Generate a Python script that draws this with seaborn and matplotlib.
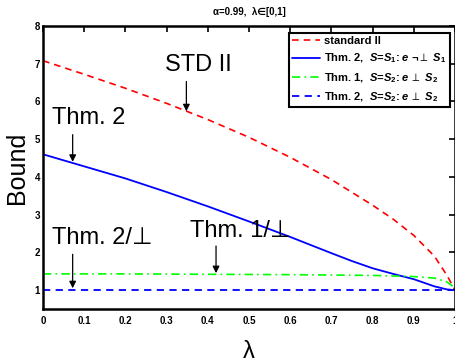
import matplotlib
matplotlib.use("Agg")
import matplotlib.pyplot as plt
import seaborn as sns

# ---- data ----
lam_std = [0.0, 0.1, 0.2, 0.3, 0.4, 0.5, 0.6, 0.7, 0.8, 0.85, 0.9, 0.95, 0.98, 1.0]
std2 = [7.08, 6.72, 6.35, 5.95, 5.52, 5.05, 4.52, 3.93, 3.25, 2.88, 2.45, 1.90, 1.40, 1.0]

lam_t2 = [0.0, 0.1, 0.2, 0.3, 0.4, 0.5, 0.6, 0.7, 0.75, 0.8, 0.85, 0.9, 0.95, 0.98, 1.0]
thm2_s1 = [4.60, 4.28, 3.96, 3.60, 3.22, 2.82, 2.41, 1.98, 1.77, 1.58, 1.43, 1.29, 1.10, 1.02, 1.0]

lam_t1 = [0.0, 0.2, 0.4, 0.6, 0.8, 0.9, 0.95, 0.98, 1.0]
thm1_s2 = [1.43, 1.43, 1.42, 1.41, 1.39, 1.36, 1.32, 1.22, 1.06]

lam_t2b = [0.0, 1.0]
thm2_s2 = [1.0, 1.0]

x_ticks = [0, 0.1, 0.2, 0.3, 0.4, 0.5, 0.6, 0.7, 0.8, 0.9, 1.0]
x_tick_labels = ["0", "0.1", "0.2", "0.3", "0.4", "0.5", "0.6", "0.7", "0.8", "0.9", "1"]
y_ticks = [1, 2, 3, 4, 5, 6, 7, 8]
y_tick_labels = ["1", "2", "3", "4", "5", "6", "7", "8"]

labels = [
    "standard II",
    r"Thm. 2,  $S$=$S_1$: $e\ {\neg}{\perp}\ S_1$",
    r"Thm. 1,  $S$=$S_2$: $e\,{\perp}\ S_2$",
    r"Thm. 2,  $S$=$S_2$: $e\,{\perp}\ S_2$",
]

sns.set_theme(style="white")
plt.rcParams["font.family"] = ["Liberation Sans", "DejaVu Sans"]
plt.rcParams["text.color"] = "black"
plt.rcParams["axes.labelcolor"] = "black"
plt.rcParams["mathtext.fontset"] = "custom"
plt.rcParams["mathtext.it"] = "Liberation Sans:italic:bold"
plt.rcParams["mathtext.rm"] = "Liberation Sans:bold"
plt.rcParams["mathtext.bf"] = "Liberation Sans:bold"

fig = plt.figure(figsize=(4.55, 3.63), dpi=100)
ax = fig.add_axes([43 / 455, 54 / 363, 412 / 455, 283 / 363])

sns.lineplot(x=lam_std, y=std2, ax=ax, color="#ff0000", lw=1.2,
             linestyle=(0, (4, 3)), label=labels[0])
sns.lineplot(x=lam_t2, y=thm2_s1, ax=ax, color="#0000ff", lw=1.3,
             linestyle="-", label=labels[1])
sns.lineplot(x=lam_t1, y=thm1_s2, ax=ax, color="#00ff00", lw=1.2,
             linestyle=(0, (5, 2.5, 1, 2.5)), label=labels[2])
sns.lineplot(x=lam_t2b, y=thm2_s2, ax=ax, color="#0000ff", lw=1.3,
             linestyle=(0, (4, 3)), label=labels[3])

ax.set_xlim(0, 1)
ax.set_ylim(0.5, 8)
ax.set_xticks(x_ticks)
ax.set_xticklabels(x_tick_labels, fontweight="bold", fontsize=7)
ax.set_yticks(y_ticks)
ax.set_yticklabels(y_tick_labels, fontweight="bold", fontsize=7)
ax.tick_params(axis="both", direction="in", length=4, width=1.2,
               top=True, right=True, colors="black")
ax.tick_params(axis="x", pad=5)
ax.tick_params(axis="y", pad=2)
for s in ax.spines.values():
    s.set_color("black")
    s.set_linewidth(1.8)

ax.set_title(r"α=0.99,  λ∈[0,1]", fontsize=7, fontweight="bold", pad=8)
ax.set_xlabel("λ", fontsize=17, labelpad=11)
ax.set_ylabel("Bound", fontsize=18, labelpad=4)

leg = ax.legend(loc="upper right", bbox_to_anchor=((450 - 43) / 412, (309 - 33) / 283),
                borderaxespad=0, prop={"weight": "bold", "size": 8},
                fancybox=False, framealpha=1, edgecolor="black",
                handlelength=2.5, labelspacing=0.5, borderpad=0.3,
                handletextpad=0.4)
leg.get_frame().set_linewidth(1.5)

arrow = dict(arrowstyle="-|>", color="black", lw=0.9, shrinkA=0, shrinkB=0,
             mutation_scale=10)

ax.text(0.295, 6.97, "STD II", fontsize=17, va="center", ha="left", color="black")
ax.annotate("", xy=(0.348, 5.74), xytext=(0.348, 6.53), arrowprops=arrow)

ax.text(0.022, 5.57, "Thm. 2", fontsize=17, va="center", ha="left", color="black")
ax.annotate("", xy=(0.072, 4.40), xytext=(0.072, 5.12), arrowprops=arrow)

ax.text(0.021, 2.37, "Thm. 2/⊥", fontsize=17, va="center", ha="left", color="black")
ax.annotate("", xy=(0.072, 1.05), xytext=(0.072, 1.95), arrowprops=arrow)

ax.text(0.356, 2.57, "Thm. 1/⊥", fontsize=17, va="center", ha="left", color="black")
ax.annotate("", xy=(0.42, 1.45), xytext=(0.42, 2.17), arrowprops=arrow)

fig.savefig("out.png", dpi=100)
